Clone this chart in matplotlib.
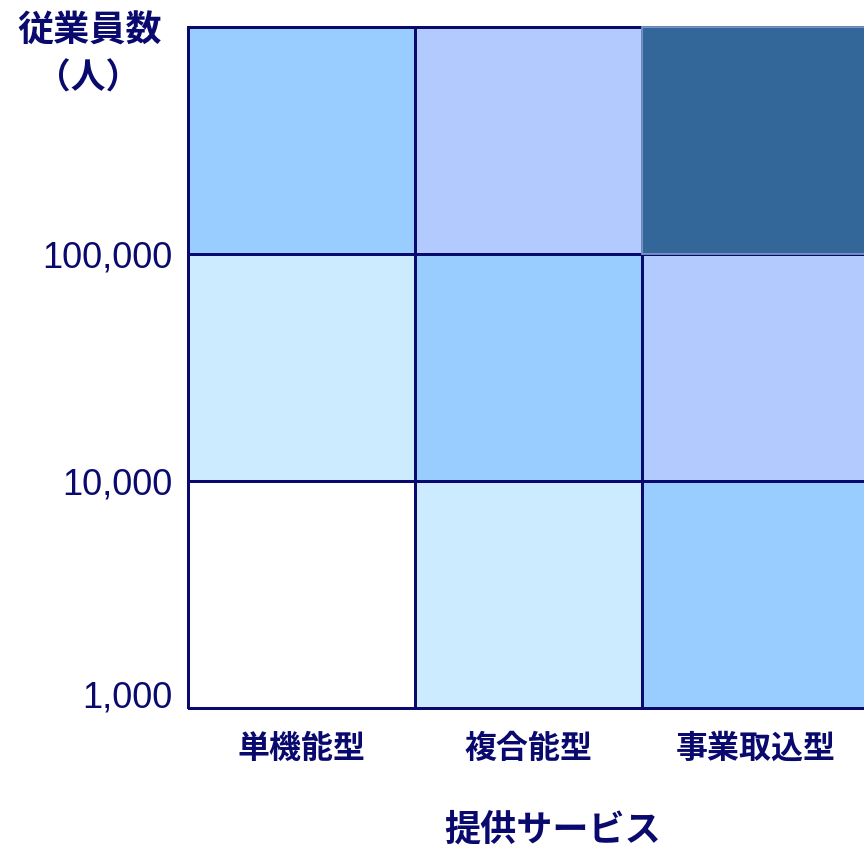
import matplotlib
matplotlib.use("Agg")
import matplotlib.pyplot as plt
from matplotlib.colors import ListedColormap
import numpy as np

categories = ["単機能型", "複合能型", "事業取込型"]
y_edges = [1000, 10000, 100000, 1000000]
y_tick_values = [1000, 10000, 100000]
y_tick_labels = ["1,000", "10,000", "100,000"]
# intensity level per cell, rows bottom→top
levels = [
    [0, 1, 2],   # 1,000 - 10,000
    [1, 2, 3],   # 10,000 - 100,000
    [2, 3, 4],   # 100,000 -
]
level_colors = ["#FFFFFF", "#CCEBFF", "#99CCFF", "#B3CAFF", "#336699"]
navy = "#0A0A6E"
jp = ["Noto Sans CJK JP", "DejaVu Sans"]

fig = plt.figure(figsize=(8.64, 8.49), dpi=100)
W, H = 864, 849
ax = fig.add_axes([188 / W, (H - 708) / H, (869 - 188) / W, 681 / H])
cmap = ListedColormap(level_colors)
x_edges = np.arange(len(categories) + 1)
ax.pcolormesh(x_edges, y_edges, np.array(levels), cmap=cmap, vmin=-0.5, vmax=4.5,
              edgecolors=navy, linewidth=2, clip_on=False)
# darkest cell border lighter
ax.add_patch(plt.Rectangle((2, 100000), 1, 900000, facecolor="#336699",
                           edgecolor="#7FA0C8", linewidth=1.2, clip_on=False, zorder=3))
ax.set_yscale("log")
ax.set_xlim(0, 3)
ax.set_ylim(1000, 1000000)
for s in ax.spines.values():
    s.set_visible(False)
ax.set_yticks(y_tick_values)
ax.set_yticklabels(y_tick_labels, fontfamily=["Liberation Sans", "DejaVu Sans"], fontsize=26, color=navy)
ax.yaxis.set_minor_locator(plt.NullLocator())
ax.tick_params(axis="y", length=0, pad=11)
ax.get_yticklabels()[0].set_va("baseline")
ax.set_xticks(x_edges[:-1] + 0.5)
ax.set_xticklabels(categories, fontfamily=jp, fontsize=23, fontweight="bold", color=navy)
ax.tick_params(axis="x", length=0, pad=18)

fig.text(90 / W, 1 - 31 / H, "従業員数", ha="center", va="center",
         fontfamily=jp, fontsize=26, fontweight="bold", color=navy)
fig.text(88 / W, 1 - 78 / H, "（人）", ha="center", va="center",
         fontfamily=jp, fontsize=25, fontweight="bold", color=navy)
fig.text(553 / W, 1 - 830 / H, "提供サービス", ha="center", va="center",
         fontfamily=jp, fontsize=26, fontweight="bold", color=navy)

fig.savefig("out.png", dpi=100)
